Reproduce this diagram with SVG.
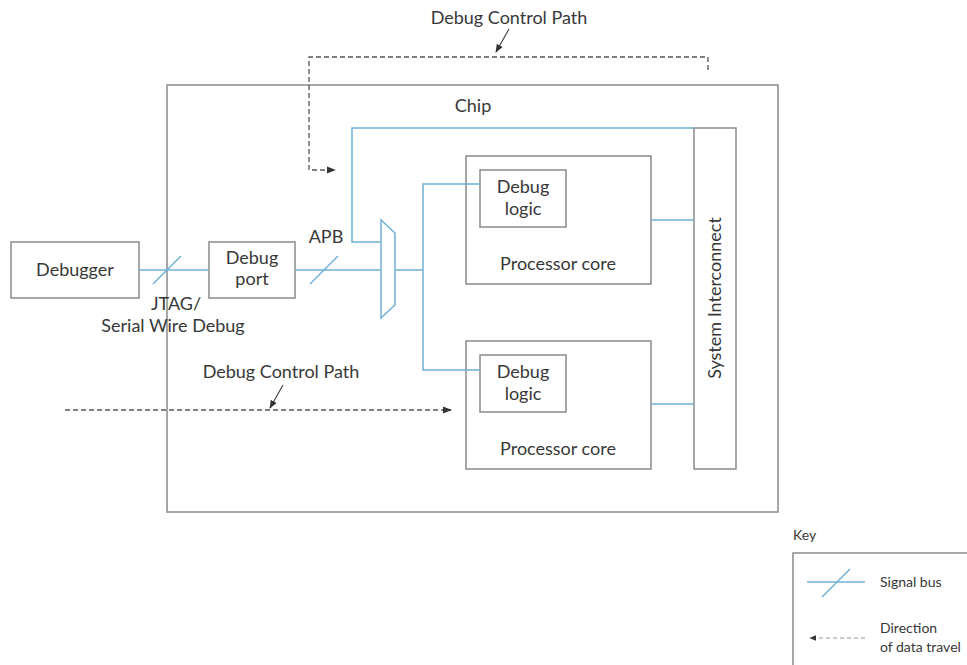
<svg xmlns="http://www.w3.org/2000/svg" width="967" height="665" viewBox="0 0 967 665">
  <style>
    .box { fill: #ffffff; stroke: #8a8a8a; stroke-width: 1.5; }
    .bus { fill: none; stroke: #6fb0d4; stroke-width: 1.5; }
    .dash { fill: none; stroke: #555555; stroke-width: 1.3; stroke-dasharray: 5 3; }
    .ptr { fill: none; stroke: #444444; stroke-width: 1.2; }
    text { font-family: Lato, "Open Sans", "Liberation Sans", sans-serif; fill: #383838; font-size: 18px; }
    .c { text-anchor: middle; }
    .key { font-size: 14px; }
  </style>
  <defs>
    <marker id="arr" viewBox="0 0 10 10" refX="9" refY="5" markerWidth="7" markerHeight="7" orient="auto">
      <path d="M0,1 L10,5 L0,9 Z" fill="#333333"/>
    </marker>
  </defs>
  <rect width="967" height="665" fill="#ffffff"/>

  <!-- chip outline -->
  <g id="chip">
    <rect class="box" x="167" y="85" width="611" height="427"/>
    <text class="c" x="473" y="112">Chip</text>
  </g>

  <g id="debugger">
    <rect class="box" x="11" y="242" width="128" height="56"/>
    <text class="c" x="75" y="276">Debugger</text>
  </g>

  <g id="debug-port">
    <rect class="box" x="209" y="242" width="86" height="56"/>
    <text class="c" x="252" y="264">Debug</text>
    <text class="c" x="252" y="285">port</text>
  </g>

  <g id="mux">
    <path class="bus" d="M381,220 L395,233 L395,305 L381,318 Z"/>
  </g>

  <g id="core1">
    <rect class="box" x="466" y="156" width="185" height="128"/>
    <rect class="box" x="480" y="170" width="86" height="57"/>
    <text class="c" x="523" y="193">Debug</text>
    <text class="c" x="523" y="215">logic</text>
    <text class="c" x="558" y="270">Processor core</text>
  </g>

  <g id="core2">
    <rect class="box" x="466" y="341" width="185" height="128"/>
    <rect class="box" x="480" y="355" width="86" height="57"/>
    <text class="c" x="523" y="378">Debug</text>
    <text class="c" x="523" y="400">logic</text>
    <text class="c" x="558" y="455">Processor core</text>
  </g>

  <g id="system-interconnect">
    <rect class="box" x="694" y="128" width="42" height="341"/>
    <text class="c" transform="translate(721,298) rotate(-90)">System Interconnect</text>
  </g>

  <g id="connectors">
    <!-- signal buses -->
    <path class="bus" d="M139,270 L209,270"/>
    <path class="bus" d="M153,284 L181,256"/>
    <path class="bus" d="M295,270 L381,270"/>
    <path class="bus" d="M310,284 L338,256"/>
    <path class="bus" d="M694,128 L352,128 L352,242 L381,242"/>
    <path class="bus" d="M395,270 L423,270"/>
    <path class="bus" d="M480,184 L423,184 L423,370 L480,370"/>
    <path class="bus" d="M651,220 L694,220"/>
    <path class="bus" d="M651,404 L694,404"/>

    <!-- debug control paths -->
    <path class="dash" d="M708,70 L708,57 L309,57 L309,170 L335,170" marker-end="url(#arr)"/>
    <path class="ptr" d="M509,29 L496,52" marker-end="url(#arr)"/>
    <path class="dash" d="M65,410 L451,410" marker-end="url(#arr)"/>
    <path class="ptr" d="M283,385 L270,408" marker-end="url(#arr)"/>
  </g>

  <g id="labels">
    <text class="c" x="509" y="24">Debug Control Path</text>
    <text class="c" x="281" y="378">Debug Control Path</text>
    <text class="c" x="326" y="243">APB</text>
    <text class="c" x="176" y="310">JTAG/</text>
    <text class="c" x="173" y="332">Serial Wire Debug</text>
  </g>

  <!-- key -->
  <g id="key">
    <text class="key" x="793" y="540">Key</text>
    <path class="box" d="M967,553 L793,553 L793,665" style="fill:none"/>
    <path class="bus" d="M807,582 L865,582"/>
    <path class="bus" d="M822,597 L850,569"/>
    <text class="key" x="880" y="587">Signal bus</text>
    <path class="dash" d="M865,638 L810,638" style="stroke:#999999;stroke-width:1;stroke-dasharray:4 3" marker-end="url(#arr)"/>
    <text class="key" x="880" y="633">Direction</text>
    <text class="key" x="880" y="652">of data travel</text>
  </g>
</svg>
